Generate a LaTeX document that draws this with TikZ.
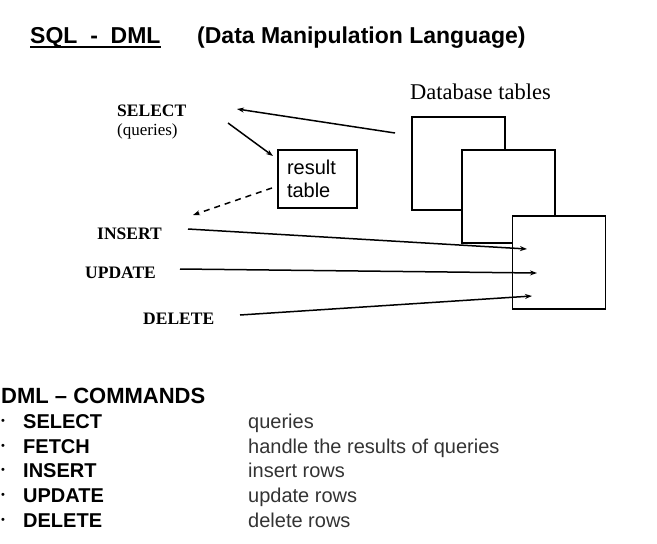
\documentclass[tikz,border=0pt]{standalone}
\usepackage{fontspec}
\setmainfont{Liberation Serif}
\setsansfont{Liberation Sans}
\usetikzlibrary{arrows.meta}

\tikzset{
  tbl/.style={draw, line width=1.8pt, fill=white, minimum width=93pt, minimum height=93pt, inner sep=0pt},
  cmd/.style={font=\bfseries\fontsize{17.5}{20}\selectfont, anchor=base west, inner sep=0pt},
  arr/.style={line width=1.5pt, -{Stealth[length=7pt,width=5pt]}},
  lst/.style={font=\sffamily\fontsize{20}{22}\selectfont, anchor=base west, inner sep=0pt},
}

\begin{document}
\begin{tikzpicture}[x=1pt,y=-1pt]
\useasboundingbox (0,0) rectangle (657,544);

% title
\node[anchor=base west, inner sep=0pt, font=\sffamily\bfseries\fontsize{23}{26}\selectfont] (sqldml) at (30,43) {SQL\ \ -\ \ DML};
\draw[line width=1.6pt] ([yshift=-4pt]sqldml.base west) -- ([yshift=-4pt]sqldml.base east);
\node[anchor=base west, inner sep=0pt, font=\sffamily\bfseries\fontsize{23}{26}\selectfont] (dmllong) at (197,43) {(Data Manipulation Language)};

% database tables
\node[anchor=base west, inner sep=0pt, font=\fontsize{22.5}{25}\selectfont] (dbtitle) at (410,99) {Database tables};
\node[tbl] (tab1) at (458.5,163.5) {};
\node[tbl] (tab2) at (508.5,196.5) {};
\node[tbl] (tab3) at (559,262.5) {};

% result table
\node[draw, line width=1.5pt, minimum width=79pt, minimum height=58pt, inner sep=0pt, text width=61pt, align=left, font=\sffamily\fontsize{20}{23}\selectfont] (result) at (317.5,179) {result\\table};

% commands
\node[cmd] (select) at (117,116) {SELECT};
\node[anchor=base west, inner sep=0pt, font=\fontsize{17}{20}\selectfont] (queries) at (117,135) {(queries)};
\node[cmd] (insert) at (97,239) {INSERT};
\node[cmd] (update) at (85,278) {UPDATE};
\node[cmd] (delete) at (143,324) {DELETE};

\coordinate (selFrom) at (395,133);
\coordinate (selTo) at (237,109);
\coordinate (resFrom) at (228,123);
\coordinate (resTo) at (273,156);
\coordinate (backFrom) at (272,188);
\coordinate (backTo) at (193,215);
\coordinate (insFrom) at (188,229);
\coordinate (insTo) at (527,249);
\coordinate (updFrom) at (180,269);
\coordinate (updTo) at (537,273);
\coordinate (delFrom) at (240,315);
\coordinate (delTo) at (532,296);

\draw[arr] (selFrom) -- (selTo);
\draw[arr] (resFrom) -- (resTo);
\draw[arr, dash pattern=on 6pt off 5pt] (backFrom) -- (backTo);
\draw[arr] (insFrom) -- (insTo);
\draw[arr] (updFrom) -- (updTo);
\draw[arr] (delFrom) -- (delTo);

% command list
\node[anchor=base west, inner sep=0pt, font=\sffamily\bfseries\fontsize{22}{24}\selectfont] (cmdhead) at (1,403) {DML -- COMMANDS};
\node[lst, font=\sffamily\fontsize{11}{12}\selectfont] (b1) at (1,424) {•};
\node[lst, font=\sffamily\fontsize{11}{12}\selectfont] (b2) at (1,449) {•};
\node[lst, font=\sffamily\fontsize{11}{12}\selectfont] (b3) at (1,473) {•};
\node[lst, font=\sffamily\fontsize{11}{12}\selectfont] (b4) at (1,498) {•};
\node[lst, font=\sffamily\fontsize{11}{12}\selectfont] (b5) at (1,523) {•};
\node[lst, font=\sffamily\bfseries\fontsize{20}{22}\selectfont] (l1) at (23,428) {SELECT};
\node[lst, font=\sffamily\bfseries\fontsize{20}{22}\selectfont] (l2) at (23,453) {FETCH};
\node[lst, font=\sffamily\bfseries\fontsize{20}{22}\selectfont] (l3) at (23,477) {INSERT};
\node[lst, font=\sffamily\bfseries\fontsize{20}{22}\selectfont] (l4) at (23,502) {UPDATE};
\node[lst, font=\sffamily\bfseries\fontsize{20}{22}\selectfont] (l5) at (23,527) {DELETE};
\node[lst, text=black!80] (d1) at (248,428) {queries};
\node[lst, text=black!80] (d2) at (248,453) {handle the results of queries};
\node[lst, text=black!80] (d3) at (248,477) {insert rows};
\node[lst, text=black!80] (d4) at (248,502) {update rows};
\node[lst, text=black!80] (d5) at (248,527) {delete rows};
\end{tikzpicture}
\end{document}
